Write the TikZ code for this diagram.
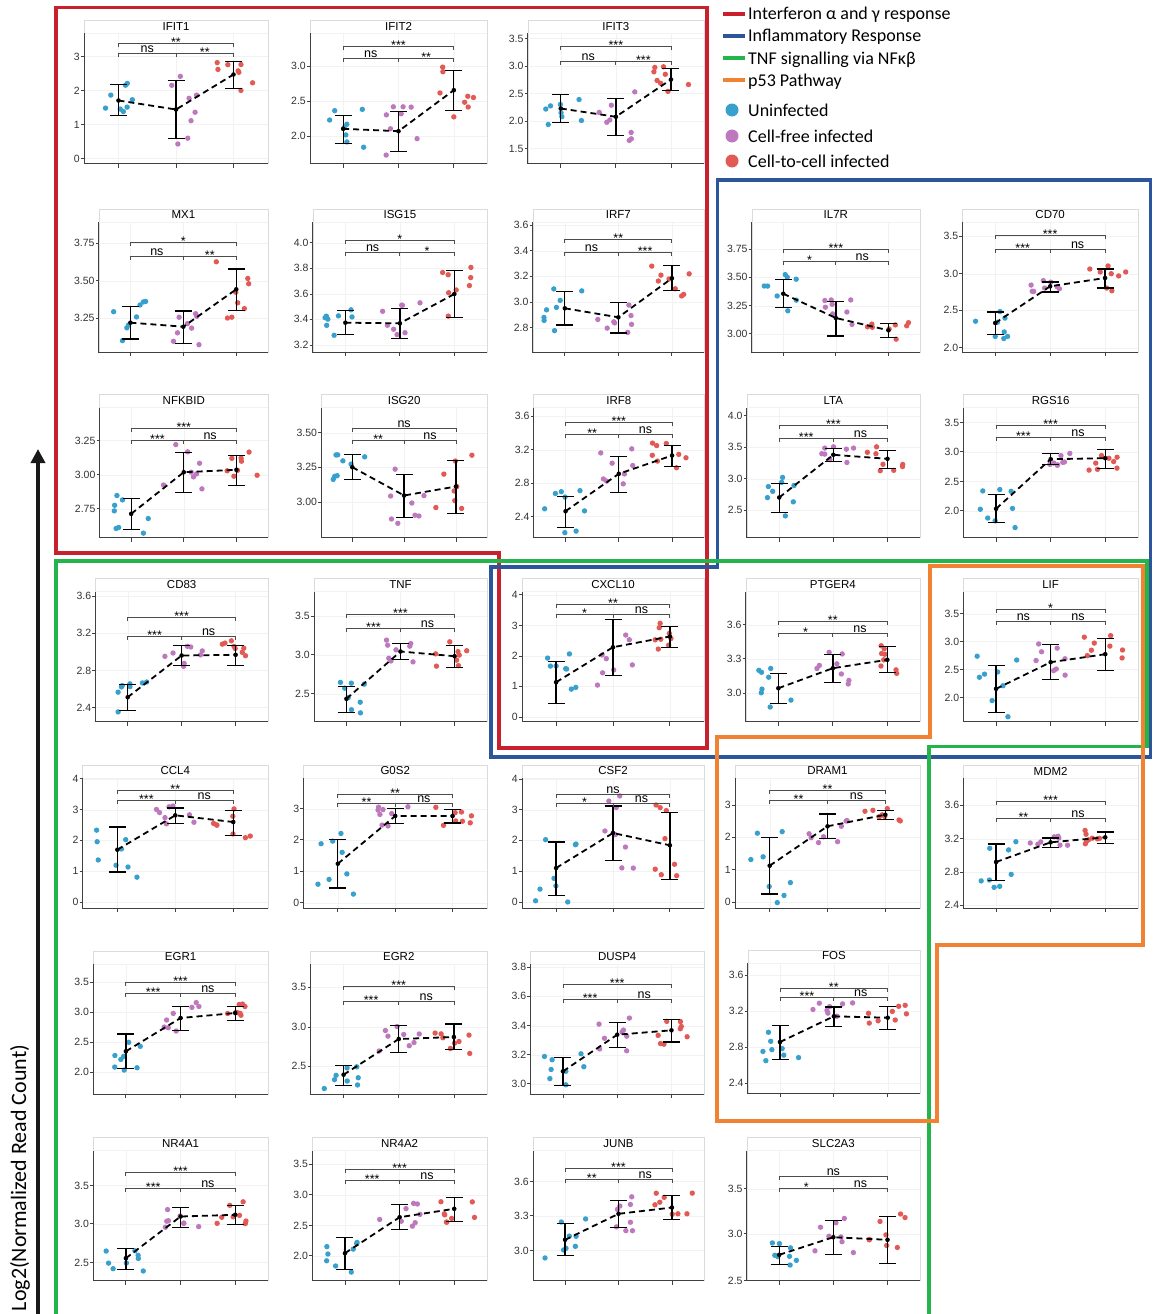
\documentclass[tikz,border=0pt]{standalone}
\usepackage{fontspec}
\setmainfont{Liberation Sans}
\newfontfamily\legendfont{Carlito}
\usepackage{tikz}
\usetikzlibrary{arrows.meta}
\definecolor{RojoIFN}{RGB}{200,32,45}
\definecolor{AzulInfl}{RGB}{45,85,155}
\definecolor{VerdeTNF}{RGB}{35,180,75}
\definecolor{NaranjaP}{RGB}{240,130,50}
\definecolor{DotUninf}{RGB}{55,160,205}
\definecolor{DotFree}{RGB}{190,120,190}
\definecolor{DotCell}{RGB}{225,90,85}

\tikzset{
  framegray/.style={gray!28,line width=0.4pt},
  gridgray/.style={gray!10,line width=0.3pt},
  axisline/.style={black!75,line width=0.8pt},
  ticklab/.style={anchor=east,inner sep=1pt,font=\fontsize{10.5}{12}\selectfont,text=black!80},
  plottitle/.style={inner sep=0pt,font=\fontsize{11.5}{13}\selectfont},
  errbar/.style={black,line width=1.3pt},
  meanline/.style={black,line width=1.8pt,dash pattern=on 6pt off 4pt},
  sigline/.style={black!70,line width=0.8pt},
  siglab/.style={anchor=base,inner sep=0pt,font=\fontsize{12.5}{13}\selectfont},
  grp1/.style={fill=DotUninf},
  grp2/.style={fill=DotFree},
  grp3/.style={fill=DotCell},
  setbox/.style={line width=3.8pt},
  legline/.style={line width=4pt},
  legtext/.style={anchor=base west,inner sep=0pt,font=\legendfont\fontsize{18}{20}\selectfont},
}

\def\signs{ns}
\newcommand{\signif}[1]{\edef\sigtmp{#1}\ifx\sigtmp\signs ns\else\raisebox{-4pt}{\sigtmp}\fi}

% #1 right edge, #2 axis left, #3 axis bottom, #4 title, #5 ticks,
% #6 groups mean/low/high, #7 brackets top/low, #8 labels, #9 seed
\newcommand{\exprplot}[9]{%
  \begin{scope}[shift={(#2,#3)},y=1pt]
    \pgfmathsetmacro\pw{#1-#2}
    \draw[framegray] (0,0) rectangle (\pw,143);
    \draw[gridgray] (0,130) -- (\pw,130);
    \foreach \tickv/\tickh in {#5} {
      \draw[gridgray] (0,\tickh) -- (\pw,\tickh);
      \draw[axisline] (-3,\tickh) -- (0,\tickh);
      \node[ticklab] (ytick) at (-3,\tickh) {\tickv};
    }
    \foreach \grp in {1,2,3} {
      \pgfmathsetmacro\gx{(\grp-0.4)/3.2*\pw}
      \draw[gridgray] (\gx,0) -- (\gx,130);
      \draw[axisline] (\gx,0) -- (\gx,-4);
    }
    \draw[axisline] (0,130) -- (0,0) -- (\pw,0);
    \node[plottitle] (title-#4) at (\pw/2,137) {#4};
    % points
    \pgfmathsetseed{#9}
    \foreach \mn/\lo/\hi [count=\grp] in {#6} {
      \pgfmathsetmacro\gx{(\grp-0.4)/3.2*\pw}
      \foreach \dotk in {1,...,8} {
        \pgfmathsetmacro\dx{\gx+21*rand}
        \pgfmathsetmacro\dy{max(3,min(127,\mn+0.7*(\hi-\lo)*rand))}
        \fill[grp\grp] (\dx,\dy) circle (2.7);
      }
    }
    % error bars and means
    \foreach \mn/\lo/\hi [count=\grp] in {#6} {
      \pgfmathsetmacro\gx{(\grp-0.4)/3.2*\pw}
      \draw[errbar] (\gx-8.5,\hi) -- (\gx+8.5,\hi) (\gx,\hi) -- (\gx,\lo) (\gx-8.5,\lo) -- (\gx+8.5,\lo);
      \coordinate (mean\grp) at (\gx,\mn);
    }
    \draw[meanline] (mean1) -- (mean2) -- (mean3);
    \foreach \grp in {1,2,3} \fill (mean\grp) circle (2.3);
    % brackets
    \pgfmathsetmacro\ga{0.1875*\pw}
    \pgfmathsetmacro\gb{0.5*\pw}
    \pgfmathsetmacro\gc{0.8125*\pw}
    \foreach \brT/\brL in {#7} {
      \draw[sigline] (\ga,\brT-3.5) -- (\ga,\brT) -- (\gc,\brT) -- (\gc,\brT-3.5);
      \draw[sigline] (\ga,\brL-3.5) -- (\ga,\brL) -- (\gc,\brL) -- (\gc,\brL-3.5) (\gb,\brL) -- (\gb,\brL-3.5);
      \foreach \sigA/\sigB/\sigC in {#8} {
        \node[siglab] (sigtop) at (\gb,\brT+1) {\signif{\sigA}};
        \node[siglab] (sigleft) at ({(\ga+\gb)/2},\brL+1) {\signif{\sigB}};
        \node[siglab] (sigright) at ({(\gb+\gc)/2},\brL+1) {\signif{\sigC}};
      }
    }
  \end{scope}}

\begin{document}
\begin{tikzpicture}[x=1pt,y=-1pt]
  \useasboundingbox (0,0) rectangle (1153,1314);

  % row 1
  \exprplot{268}{84}{163.5}{IFIT1}{3/107,2/73,1/39,0/5}{63/48/79,54/25/83,89/75/102}{120/110}{**/ns/**}{11}
  \exprplot{487}{310}{163.5}{IFIT2}{3.0/97.3,2.5/62.3,2.0/27.3}{34.7/20/48.3,32.3/12.3/52.3,73.3/53.3/93.3}{116.7/104.7}{***/ns/**}{12}
  \exprplot{704}{527.7}{163.5}{IFIT3}{3.5/125,3.0/97.3,2.5/70,2.0/42.3,1.5/15}{55/41.3/69,46.7/28/64.7,84/73.3/95}{116.7/102.3}{***/ns/***}{13}

  % row 2
  \exprplot{268}{98.7}{352}{MX1}{3.75/108.7,3.50/71.3,3.25/34}{29.3/13/45.3,25.3/8.7/41,62.7/41.3/83}{109.7/95.3}{*/ns/**}{21}
  \exprplot{487}{312.7}{352}{ISG15}{4.0/109.3,3.8/83.7,3.6/58,3.4/32.7,3.2/7}{29.3/17.3/41.3,28.7/13.7/43.7,58/34.7/81.7}{112/99.7}{*/ns/*}{22}
  \exprplot{704}{532.7}{352}{IRF7}{3.6/127,3.4/101.3,3.2/75.7,3.0/49.7,2.8/24.3}{43.7/27/60.3,34.7/19/49.7,73.7/61.3/86.7}{112.3/99.7}{**/ns/***}{23}
  \exprplot{920}{751.7}{352}{IL7R}{3.75/102.7,3.50/74.7,3.25/46.3,3.00/18.3}{58.3/44.3/72.7,34/16/50.7,21.7/14.7/28.3}{102.3/90.7}{***/*/ns}{24}
  \exprplot{1138}{962.3}{352}{CD70}{3.5/115.7,3.0/78.3,2.5/41.7,2.0/4.3}{29/17.3/40,65.7/60/70,74/64/83}{116.7/102.3}{***/***/ns}{25}

  % row 3
  \exprplot{268}{99.6}{537.5}{NFKBID}{3.25/97,3.00/62.7,2.75/28.7}{23.7/7.7/38.7,65.3/45.3/85.3,67.7/52/82}{109.3/97}{***/***/ns}{31}
  \exprplot{487}{321.2}{537.5}{ISG20}{3.50/104.7,3.25/70.3,3.00/35.3}{70.3/57.7/82.7,42/19.7/63,51/24.3/77}{109.3/97}{ns/**/ns}{32}
  \exprplot{704}{533.6}{537.5}{IRF8}{3.6/121.3,3.2/87.7,2.8/54.3,2.4/21}{26.3/10.3/41.3,63.7/45.3/81.3,82/71.3/92}{115.3/102.7}{***/**/ns}{33}
  \exprplot{920}{746.7}{537.5}{LTA}{4.0/121.7,3.5/90.3,3.0/58.7,2.5/27.3}{40/25.3/54.3,82.7/75.7/89,78.7/69.3/87}{111.7/99}{***/***/ns}{34}
  \exprplot{1138}{963.3}{537.5}{RGS16}{3.5/115,3.0/85.7,2.5/56,2.0/26.7}{28.7/15/42.7,78.3/72.7/84.3,79.3/69.3/88.3}{112.3/100.3}{***/***/ns}{35}

  % row 4
  \exprplot{268}{95.3}{721.5}{CD83}{3.6/125.3,3.2/88.3,2.8/51,2.4/14}{24.3/11/36.7,66/56/75.7,66.7/56/76.3}{104.3/85.3}{***/***/ns}{41}
  \exprplot{487}{314}{721.5}{TNF}{3.5/105.3,3.0/66.7,2.5/27.7}{22.7/8.7/35.3,70/61.7/78.3,65.3/54.3/76}{107/92.7}{***/***/ns}{42}
  \exprplot{704}{522}{721.5}{CXCL10}{4/126.7,3/96,2/65.3,1/35.3,0/4.3}{39.3/18.3/60,74.3/46/101.7,85/74.3/95.3}{116.7/107}{**/*/ns}{43}
  \exprplot{920}{745.7}{721.5}{PTGER4}{3.6/96.7,3.3/62.7,3.0/28.3}{33.3/18.3/47.7,53.3/39.3/67.3,61.7/49/74.7}{100/88}{**/*/ns}{44}
  \exprplot{1138}{963.3}{721.5}{LIF}{3.5/107.7,3.0/80,2.5/52,2.0/24}{32.7/9.3/56,59.3/41.7/76.7,67.3/50.7/83.3}{112.3/100}{*/ns/ns}{45}

  % row 5
  \exprplot{268}{82.6}{908}{CCL4}{4/129.3,3/98.3,2/67.7,1/36.7,0/6}{58.3/36/81,92.7/84.3/100,86/72.7/97.7}{117.7/107.3}{**/***/ns}{51}
  \exprplot{487}{303.4}{908}{G0S2}{3/99.3,2/68.3,1/37,0/5.3}{44.3/20/68.7,92/84.3/99.3,92/85/98.7}{114/104.7}{**/**/ns}{52}
  \exprplot{704}{522}{908}{CSF2}{4/128.7,3/98.3,2/67.7,1/36.7,0/6}{40/12.7/66,75/47.7/102,62.7/28.7/95.3}{114/104.7}{ns/*/ns}{53}
  \exprplot{920}{735}{908}{DRAM1}{3/102.7,2/70.7,1/38.3,0/6}{42.3/14/70.7,81.7/69.3/94,93.3/88.3/97.7}{117.3/107.3}{**/**/ns}{54}
  \exprplot{1138}{963.3}{908}{MDM2}{3.6/102.7,3.2/69.3,2.8/36,2.4/2.7}{46/27.3/64,65.7/60.7/70,70.7/64.7/76}{106.7/90}{***/**/ns}{55}

  % row 6
  \exprplot{268}{93.1}{1094}{EGR1}{3.5/111.7,3.0/81.7,2.5/51.7,2.0/22}{42.7/25.3/60,76/63.7/87.7,81/73.3/87.7}{112/100.3}{***/***/ns}{61}
  \exprplot{487}{310.5}{1094}{EGR2}{3.5/106.7,3.0/67,2.5/27.7}{19.3/8.7/28.7,55/41.7/68.3,57/44.3/70}{107.7/92.3}{***/***/ns}{62}
  \exprplot{704}{530.4}{1094}{DUSP4}{3.8/126.7,3.6/97.7,3.4/68.3,3.2/39.3,3.0/10.3}{22.7/8.7/36.7,59.3/46.7/71.7,63.7/52/74.3}{110/94.3}{***/***/ns}{63}
  \exprplot{920}{747.7}{1093}{FOS}{3.6/117.7,3.2/82,2.8/46,2.4/10}{51/33.3/67.7,76.7/66.7/86,75.3/63.3/86.7}{104.3/95.3}{**/***/ns}{64}

  % row 7
  \exprplot{268}{93.1}{1280.5}{NR4A1}{3.5/95,3.0/56.7,2.5/18}{22.3/11.3/31.7,64/53.3/73.3,65.7/55.7/75}{108.3/92.3}{***/***/ns}{71}
  \exprplot{487}{312.2}{1280.5}{NR4A2}{3.5/116.3,3.0/85.7,2.5/55,2.0/24.7}{27.3/11.3/43,63.3/50.7/76.3,71.7/59/83}{111.3/100}{***/***/ns}{72}
  \exprplot{704}{533}{1280.5}{JUNB}{3.6/99,3.3/64.7,3.0/30}{40.7/24.7/56.7,66.7/53.3/79.7,73/60.7/84.7}{112.3/100.7}{***/**/ns}{73}
  \exprplot{920}{746.7}{1280.5}{SLC2A3}{3.5/91.7,3.0/46.7,2.5/0}{25.7/16/34.3,43.3/25.7/60,40.7/17.3/64}{104.3/91.7}{ns/*/ns}{74}

  % pathway boxes
  \draw[setbox,RojoIFN] (55.7,7.5) -- (707,7.5) -- (707,748) -- (499,748) -- (499,553) -- (55.7,553) -- cycle;
  \draw[setbox,AzulInfl] (717.5,180) -- (1150.5,180) -- (1150.5,757) -- (491,757) -- (491,567) -- (717.5,567) -- cycle;
  \draw[setbox,VerdeTNF] (55.7,1314) -- (55.7,561) -- (1147,561) -- (1147,746.5) -- (929,746.5) -- (929,1314);
  \draw[setbox,NaranjaP] (930,566) -- (1143,566) -- (1143,945) -- (937,945) -- (937,1121) -- (717,1121) -- (717,737) -- (930,737) -- cycle;

  % legend
  \draw[legline,RojoIFN] (723,14) -- (745,14);
  \node[legtext] (leg-ifn) at (748,20) {Interferon α and γ response};
  \draw[legline,AzulInfl] (723,36) -- (745,36);
  \node[legtext] (leg-infl) at (748,42) {Inflammatory Response};
  \draw[legline,VerdeTNF] (723,58) -- (745,58);
  \node[legtext] (leg-tnf) at (748,64) {TNF signalling via NFκβ};
  \draw[legline,NaranjaP] (723,80) -- (745,80);
  \node[legtext] (leg-p53) at (748,86) {p53 Pathway};
  \fill[DotUninf] (732,110) circle (6.5);
  \node[legtext] (leg-uninf) at (748,116) {Uninfected};
  \fill[DotFree] (732,136) circle (6.5);
  \node[legtext] (leg-free) at (748,142) {Cell-free infected};
  \fill[DotCell] (732,161) circle (6.5);
  \node[legtext] (leg-cell) at (748,167) {Cell-to-cell infected};

  % y axis label and arrow
  \coordinate (arrowfoot) at (38,1314);
  \coordinate (arrowtip) at (38,449);
  \draw[line width=4.5pt,black!90,-{Triangle[length=14pt,width=14pt]}] (arrowfoot) -- (arrowtip);
  \node[rotate=90,inner sep=0pt,font=\legendfont\fontsize{22}{24}\selectfont] (ylab) at (20,1178) {Log2(Normalized Read Count)};
\end{tikzpicture}
\end{document}
